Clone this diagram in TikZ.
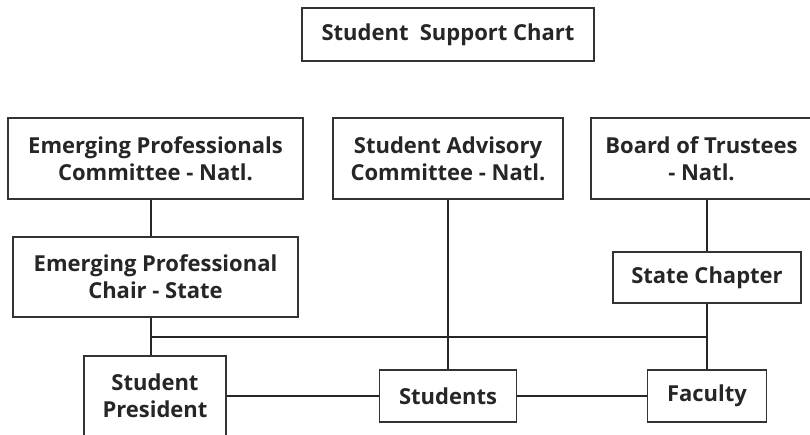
\documentclass[tikz,border=0pt]{standalone}
\usepackage{fontspec}
\setmainfont{Open Sans}
\usepackage{tikz}
\usetikzlibrary{calc}
\usetikzlibrary{positioning}

\tikzset{
 chartbox/.style={rectangle, draw=black!80, line width=1.6pt, align=center,
  inner sep=0pt, font=\bfseries\fontsize{22}{27}\selectfont, text=black!85},
 link/.style={draw=black!85, line width=1.6pt}
}

\begin{document}
\begin{tikzpicture}[x=1pt, y=-1pt]
 \useasboundingbox (0,0) rectangle (810,434);
 \node [chartbox, minimum width=292pt, minimum height=53pt] (title) at (448, 34.5) {Student\hspace{0.25em} Support Chart};

 % national level
 \node [chartbox, minimum width=295pt, minimum height=81pt] (epc) at (155.5, 158.5) {Emerging Professionals\\Committee - Natl.};
 \node [chartbox, minimum width=230pt, minimum height=81pt] (sac) at (448, 158.5) {Student Advisory\\Committee - Natl.};
 \node [chartbox, minimum width=221pt, minimum height=81pt] (bot) at (701.5, 158.5) {Board of Trustees\\- Natl.};

 % state level
 \node [chartbox, minimum width=285pt, minimum height=80pt] (epchair) at (155.5, 277) {Emerging Professional\\Chair - State};
 \node [chartbox, minimum width=188pt, minimum height=51pt] (state) at (707, 277.5) {State Chapter};

 % students
 \node [chartbox, minimum width=142pt, minimum height=80pt] (pres) at (155, 396) {Student\\President};
 \node [chartbox, minimum width=137pt, minimum height=52pt] (students) at (448, 396) {Students};
 \node [chartbox, minimum width=119pt, minimum height=52pt] (faculty) at (707, 396) {Faculty};

 \coordinate (barL) at (151, 337);
 \coordinate (barR) at (707, 337);

 \draw [link] (epc.south -| barL) to (epchair.north -| barL);
 \draw [link] (epchair.south -| barL) to (pres.north -| barL);
 \draw [link] (sac) to (students);
 \draw [link] (bot.south -| state) to (state);
 \draw [link] (state) to (faculty);
 \draw [link] (barL) to (barR);
 \draw [link] (pres) to (students);
 \draw [link] (students) to (faculty);
\end{tikzpicture}
\end{document}
